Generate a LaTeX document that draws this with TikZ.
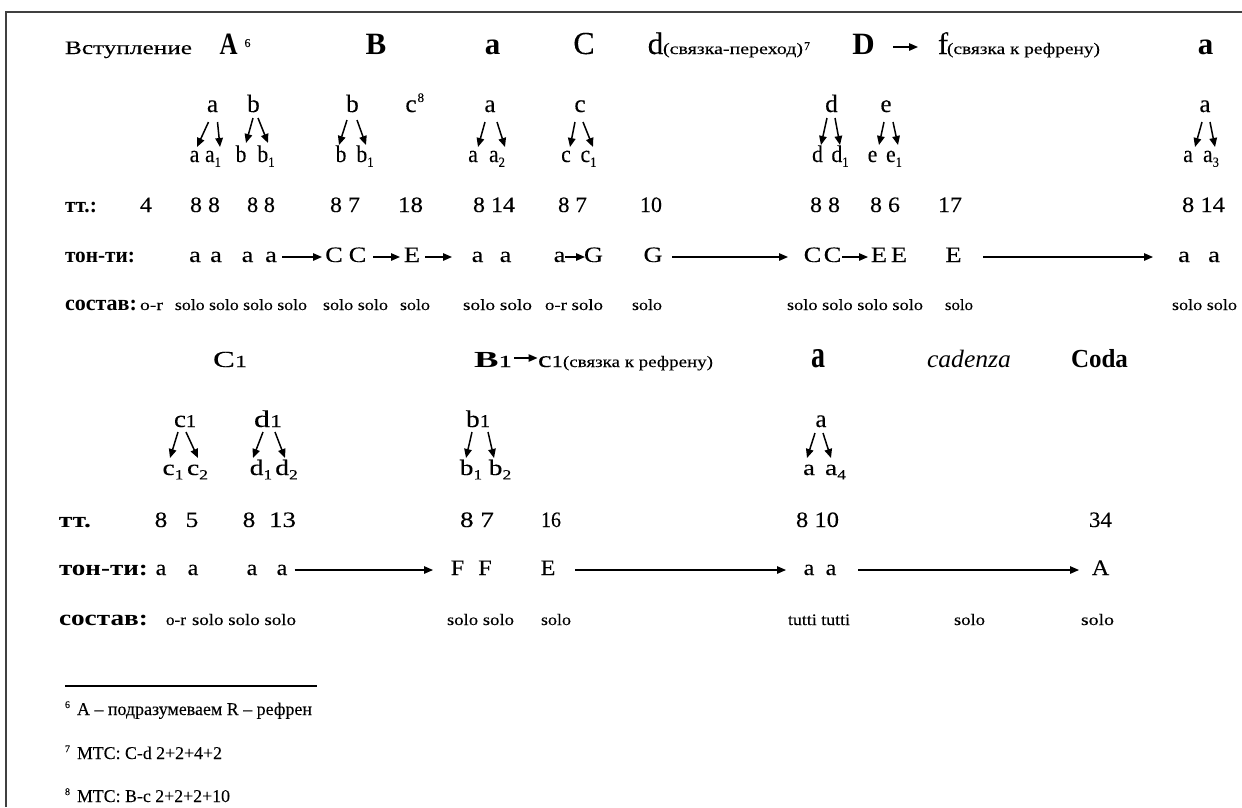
\documentclass[tikz,border=0pt]{standalone}
\usepackage{fontspec}
\setmainfont{Liberation Serif}[UprightFeatures={FakeBold=0.12}]
\usepackage{graphicx}
\usetikzlibrary{arrows.meta}

% font size in pt (1pt = 1 unit of the picture)
\newcommand\fs[1]{\fontsize{#1}{#1}\selectfont}
% text of a given size fitted to a given width
\newcommand\tk[3]{{\fs{#1}\resizebox{#2pt}{\height}{#3}}}
% horizontal stretch
\newcommand\hsc[2]{\scalebox{#1}[1]{#2}}
% lowered index
\newcommand\sbs[1]{\raisebox{-0.2em}{\fs{14}#1}}

\tikzset{
  tok/.style={anchor=base, inner sep=0pt, outer sep=0pt},
  tokw/.style={anchor=base west, inner sep=0pt, outer sep=0pt},
  tree/.style={line width=1.5pt, -{Triangle[length=9pt,width=7.5pt]}},
  flow/.style={line width=1.3pt, -{Triangle[length=9pt,width=7.5pt]}},
  frame/.style={line width=1.6pt, draw=black!75},
}

\begin{document}
\begin{tikzpicture}[x=1pt, y=-1pt]
\useasboundingbox (0,0) rectangle (1242,807);
\fill[white] (0,0) rectangle (1242,807);
\draw[frame] (6,807) -- (6,12) -- (1242,12);

% ---------- first line: sections ----------
\node[tok] (intro) at (128.5,54) {\tk{19}{127}{Вступление}};
\node[tok] (hA) at (228.5,54) {\tk{31}{18}{\bfseries A}};
\node[tokw] (hAn) at ([shift={(7,-7)}]hA.base east) {\fs{12}6};
\node[tok] (hB) at (376,54) {\fs{31}\bfseries B};
\node[tok] (ha) at (492.5,54) {\fs{31}\bfseries a};
\node[tok] (hC) at (584,54) {\fs{32}C};
\node[tok] (hd) at (655.5,54) {\fs{31}d};
\node[tokw] (hdt) at (663,54) {\tk{16}{140}{(связка-переход)}};
\node[tokw] (hdn) at ([shift={(1,-4)}]hdt.base east) {\fs{12}7};
\node[tok] (hD) at (863.5,54) {\fs{31}\bfseries D};
\node[tok] (hf) at (943,54) {\fs{31}f};
\node[tokw] (hft) at (947,54) {\tk{16}{153}{(связка к рефрену)}};
\draw[flow] ([shift={(29.5,-7)}]hD.base) -- ([shift={(-25,-7)}]hf.base);
\node[tok] (hz) at (1205.5,54) {\fs{31}\bfseries a};

% ---------- first line: themes and their variants ----------
\node[tok] (p1) at (212.5,112) {\fs{25}a};
\node[tok] (p2) at (253.5,112) {\fs{25}b};
\node[tok] (p3) at (352.5,112) {\fs{25}b};
\node[tok] (p4) at (411,112) {\fs{25}c};
\node[tokw] (p4n) at ([shift={(1,-10)}]p4.base east) {\fs{13}8};
\node[tok] (p5) at (490,112) {\fs{25}a};
\node[tok] (p6) at (580,112) {\fs{25}c};
\node[tok] (p7) at (831.5,112) {\fs{25}d};
\node[tok] (p8) at (886,112) {\fs{25}e};
\node[tok] (p9) at (1205,112) {\fs{25}a};

\node[tok] (k1a) at (194.5,162) {\fs{24}\hsc{0.9}{a}};
\node[tok] (k1b) at (213,162) {\fs{24}\hsc{0.9}{a\sbs{1}}};
\node[tok] (k2a) at (241,162) {\fs{24}\hsc{0.9}{b}};
\node[tok] (k2b) at (266,162) {\fs{24}\hsc{0.9}{b\sbs{1}}};
\node[tok] (k3a) at (341,162) {\fs{24}\hsc{0.9}{b}};
\node[tok] (k3b) at (365,162) {\fs{24}\hsc{0.9}{b\sbs{1}}};
\node[tok] (k5a) at (473,162) {\fs{24}\hsc{0.9}{a}};
\node[tok] (k5b) at (497,162) {\fs{24}\hsc{0.9}{a\sbs{2}}};
\node[tok] (k6a) at (566,162) {\fs{24}\hsc{0.9}{c}};
\node[tok] (k6b) at (588.5,162) {\fs{24}\hsc{0.9}{c\sbs{1}}};
\node[tok] (k7a) at (817.5,162) {\fs{24}\hsc{0.9}{d}};
\node[tok] (k7b) at (840,162) {\fs{24}\hsc{0.9}{d\sbs{1}}};
\node[tok] (k8a) at (872.5,162) {\fs{24}\hsc{0.9}{e}};
\node[tok] (k8b) at (894,162) {\fs{24}\hsc{0.9}{e\sbs{1}}};
\node[tok] (k9a) at (1188,162) {\fs{24}\hsc{0.9}{a}};
\node[tok] (k9b) at (1211,162) {\fs{24}\hsc{0.9}{a\sbs{3}}};

\draw[tree] ([shift={(-4,10)}]p1.base) -- ([shift={(2.5,-15)}]k1a.base);
\draw[tree] ([shift={(5,10)}]p1.base) -- ([shift={(7,-15)}]k1b.base);
\draw[tree] ([shift={(-0.5,6)}]p2.base) -- ([shift={(5,-19)}]k2a.base);
\draw[tree] ([shift={(4.5,6)}]p2.base) -- ([shift={(2,-19)}]k2b.base);
\draw[tree] ([shift={(-5.5,8)}]p3.base) -- ([shift={(-2,-17)}]k3a.base);
\draw[tree] ([shift={(4.5,8)}]p3.base) -- ([shift={(1,-17)}]k3b.base);
\draw[tree] ([shift={(-5,10)}]p5.base) -- ([shift={(5,-15)}]k5a.base);
\draw[tree] ([shift={(7,10)}]p5.base) -- ([shift={(8,-15)}]k5b.base);
\draw[tree] ([shift={(-5,10)}]p6.base) -- ([shift={(4,-15)}]k6a.base);
\draw[tree] ([shift={(3,10)}]p6.base) -- ([shift={(4.5,-15)}]k6b.base);
\draw[tree] ([shift={(-4.5,6)}]p7.base) -- ([shift={(3.5,-17)}]k7a.base);
\draw[tree] ([shift={(3.5,6)}]p7.base) -- ([shift={(0,-17)}]k7b.base);
\draw[tree] ([shift={(-2,10)}]p8.base) -- ([shift={(6.5,-17)}]k8a.base);
\draw[tree] ([shift={(7,10)}]p8.base) -- ([shift={(4,-17)}]k8b.base);
\draw[tree] ([shift={(-3,10)}]p9.base) -- ([shift={(7,-15)}]k9a.base);
\draw[tree] ([shift={(5,10)}]p9.base) -- ([shift={(4,-15)}]k9b.base);

% ---------- first line: bars ----------
\node[tokw] (l1) at (65,212) {\tk{22}{32}{\bfseries тт.:}};
\node[tok] (n1) at (146,212) {\tk{22}{12}{4}};
\node[tok] (n2) at (205,212) {\tk{22}{30}{8 8}};
\node[tok] (n3) at (261,212) {\tk{22}{28}{8 8}};
\node[tok] (n4) at (345,212) {\tk{22}{30}{8 7}};
\node[tok] (n5) at (410.5,212) {\tk{22}{25}{18}};
\node[tok] (n6) at (494,212) {\tk{22}{42}{8 14}};
\node[tok] (n7) at (572.5,212) {\tk{22}{29}{8 7}};
\node[tok] (n8) at (651,212) {\tk{22}{22}{10}};
\node[tok] (n9) at (825,212) {\tk{22}{30}{8 8}};
\node[tok] (n10) at (885,212) {\tk{22}{30}{8 6}};
\node[tok] (n11) at (950,212) {\tk{22}{24}{17}};
\node[tok] (n12) at (1203.5,212) {\tk{22}{43}{8 14}};

% ---------- first line: keys ----------
\node[tokw] (l2) at (65,262) {\tk{22}{70}{\bfseries тон-ти:}};
\node[tok] (t1) at (195,262) {\fs{22}\hsc{1.2}{a}};
\node[tok] (t2) at (216,262) {\fs{22}\hsc{1.2}{a}};
\node[tok] (t3) at (247.5,262) {\fs{22}\hsc{1.2}{a}};
\node[tok] (t4) at (271,262) {\fs{22}\hsc{1.2}{a}};
\node[tok] (t5) at (334,262) {\fs{22}\hsc{1.2}{C}};
\node[tok] (t6) at (357.5,262) {\fs{22}\hsc{1.2}{C}};
\node[tok] (t7) at (412,262) {\fs{22}\hsc{1.2}{E}};
\node[tok] (t8) at (477.5,262) {\fs{22}\hsc{1.2}{a}};
\node[tok] (t9) at (505.5,262) {\fs{22}\hsc{1.2}{a}};
\node[tok] (t10) at (559.5,262) {\fs{22}\hsc{1.2}{a}};
\node[tok] (t11) at (593.5,262) {\fs{22}\hsc{1.2}{G}};
\node[tok] (t12) at (653,262) {\fs{22}\hsc{1.2}{G}};
\node[tok] (t13) at (812.5,262) {\fs{22}\hsc{1.2}{C}};
\node[tok] (t14) at (832.5,262) {\fs{22}\hsc{1.2}{C}};
\node[tok] (t15) at (879,262) {\fs{22}\hsc{1.2}{E}};
\node[tok] (t16) at (899,262) {\fs{22}\hsc{1.2}{E}};
\node[tok] (t17) at (953.5,262) {\fs{22}\hsc{1.2}{E}};
\node[tok] (t18) at (1184,262) {\fs{22}\hsc{1.2}{a}};
\node[tok] (t19) at (1214,262) {\fs{22}\hsc{1.2}{a}};

\draw[flow] ([shift={(11,-5)}]t4.base) -- ([shift={(-12,-5)}]t5.base);
\draw[flow] ([shift={(15.5,-5)}]t6.base) -- ([shift={(-12,-5)}]t7.base);
\draw[flow] ([shift={(13,-5)}]t7.base) -- ([shift={(-25.5,-5)}]t8.base);
\draw[flow] ([shift={(5.5,-5)}]t10.base) -- ([shift={(-8.5,-5)}]t11.base);
\draw[flow] ([shift={(19,-5)}]t12.base) -- ([shift={(-24.5,-5)}]t13.base);
\draw[flow] ([shift={(9.5,-5)}]t14.base) -- ([shift={(-11,-5)}]t15.base);
\draw[flow] ([shift={(29.5,-5)}]t17.base) -- ([shift={(-31,-5)}]t18.base);

% ---------- first line: scoring ----------
\node[tokw] (l3) at (65,310) {\tk{22}{72}{\bfseries состав:}};
\node[tok] (s1) at (151.5,310) {\tk{15.5}{23}{o-r}};
\node[tok] (s2) at (241,310) {\tk{15.5}{132}{solo solo solo solo}};
\node[tok] (s3) at (355.5,310) {\tk{15.5}{65}{solo solo}};
\node[tok] (s4) at (415,310) {\tk{15.5}{30}{solo}};
\node[tok] (s5) at (497.5,310) {\tk{15.5}{69}{solo solo}};
\node[tok] (s6) at (574,310) {\tk{15.5}{58}{o-r solo}};
\node[tok] (s7) at (647,310) {\tk{15.5}{30}{solo}};
\node[tok] (s8) at (855,310) {\tk{15.5}{136}{solo solo solo solo}};
\node[tok] (s9) at (959,310) {\tk{15.5}{28}{solo}};
\node[tok] (s10) at (1204.5,310) {\tk{15.5}{65}{solo solo}};

% ---------- second line: sections ----------
\node[tok] (hC1) at (230,367) {\resizebox{34pt}{\height}{\fs{23}C\fs{17}1}};
\node[tok] (hB1) at (493,367) {\resizebox{38pt}{\height}{\fs{23}\textbf{B}\fs{17}1}};
\node[tok] (hc1) at (550.5,367) {\resizebox{25pt}{\height}{\fs{23}c\fs{17}1}};
\node[tokw] (hc1t) at (563,367) {\tk{16}{150}{(связка к рефрену)}};
\draw[flow] ([shift={(21,-9)}]hB1.base) -- ([shift={(-13,-9)}]hc1.base);
\node[tok] (hA4) at (818,367) {\resizebox{14pt}{18pt}{\bfseries a}};
\node[tok] (hcad) at (969,367) {\tk{25}{84}{\itshape cadenza}};
\node[tok] (hcoda) at (1099.5,367) {\tk{26}{57}{\bfseries Coda}};

% ---------- second line: themes and their variants ----------
\node[tok] (q1) at (185,427) {\resizebox{22pt}{\height}{\fs{24}c\fs{18}1}};
\node[tok] (q2) at (268,427) {\resizebox{28pt}{\height}{\fs{24}d\fs{18}1}};
\node[tok] (q3) at (478,427) {\resizebox{24pt}{\height}{\fs{24}b\fs{18}1}};
\node[tok] (q4) at (821,427) {\fs{25}a};

\node[tok] (r1) at (173,475) {\fs{22}\hsc{1.25}{c\sbs{1}}};
\node[tok] (r2) at (197.5,475) {\fs{22}\hsc{1.25}{c\sbs{2}}};
\node[tok] (r3) at (261,475) {\fs{22}\hsc{1.25}{d\sbs{1}}};
\node[tok] (r4) at (286.5,475) {\fs{22}\hsc{1.25}{d\sbs{2}}};
\node[tok] (r5) at (471,475) {\fs{22}\hsc{1.25}{b\sbs{1}}};
\node[tok] (r6) at (500,475) {\fs{22}\hsc{1.25}{b\sbs{2}}};
\node[tok] (r7) at (809,475) {\fs{22}\hsc{1.2}{a}};
\node[tok] (r8) at (835.5,475) {\fs{22}\hsc{1.25}{a\sbs{4}}};

\draw[tree] ([shift={(-7,5)}]q1.base) -- ([shift={(-3,-17)}]r1.base);
\draw[tree] ([shift={(1,5)}]q1.base) -- ([shift={(0.5,-17)}]r2.base);
\draw[tree] ([shift={(-5,5)}]q2.base) -- ([shift={(-8,-17)}]r3.base);
\draw[tree] ([shift={(7,5)}]q2.base) -- ([shift={(-1.5,-17)}]r4.base);
\draw[tree] ([shift={(-6,5)}]q3.base) -- ([shift={(-5,-17)}]r5.base);
\draw[tree] ([shift={(10,5)}]q3.base) -- ([shift={(-6,-17)}]r6.base);
\draw[tree] ([shift={(-6,6)}]q4.base) -- ([shift={(-2,-17)}]r7.base);
\draw[tree] ([shift={(2,6)}]q4.base) -- ([shift={(-4.5,-17)}]r8.base);

% ---------- second line: bars ----------
\node[tokw] (m1) at (59,527) {\tk{22}{32}{\bfseries тт.}};
\node[tok] (o1) at (161,527) {\fs{22}\hsc{1.15}{8}};
\node[tok] (o2) at (192,527) {\fs{22}\hsc{1.15}{5}};
\node[tok] (o3) at (249,527) {\fs{22}\hsc{1.15}{8}};
\node[tok] (o4) at (282.5,527) {\tk{22}{27}{13}};
\node[tok] (o5) at (477,527) {\tk{22}{34}{8 7}};
\node[tok] (o6) at (551,527) {\tk{22}{20}{16}};
\node[tok] (o7) at (817.5,527) {\tk{22}{43}{8 10}};
\node[tok] (o8) at (1100.5,527) {\tk{22}{23}{34}};

% ---------- second line: keys ----------
\node[tokw] (m2) at (59,575) {\tk{22}{89}{\bfseries тон-ти:}};
\node[tok] (u1) at (161,575) {\fs{22}\hsc{1.1}{a}};
\node[tok] (u2) at (193,575) {\fs{22}\hsc{1.1}{a}};
\node[tok] (u3) at (252,575) {\fs{22}\hsc{1.1}{a}};
\node[tok] (u4) at (282,575) {\fs{22}\hsc{1.1}{a}};
\node[tok] (u5) at (457.5,575) {\fs{22}\hsc{1.1}{F}};
\node[tok] (u6) at (485,575) {\fs{22}\hsc{1.1}{F}};
\node[tok] (u7) at (548,575) {\fs{22}\hsc{1.1}{E}};
\node[tok] (u8) at (809,575) {\fs{22}\hsc{1.1}{a}};
\node[tok] (u9) at (831,575) {\fs{22}\hsc{1.1}{a}};
\node[tok] (u10) at (1100.5,575) {\fs{22}\hsc{1.1}{A}};

\draw[flow] ([shift={(12.5,-5)}]u4.base) -- ([shift={(-24.5,-5)}]u5.base);
\draw[flow] ([shift={(27,-5)}]u7.base) -- ([shift={(-23,-5)}]u8.base);
\draw[flow] ([shift={(27,-5)}]u9.base) -- ([shift={(-21.5,-5)}]u10.base);

% ---------- second line: scoring ----------
\node[tokw] (m3) at (59,625) {\tk{22}{89}{\bfseries состав:}};
\node[tok] (v1) at (176,625) {\tk{16}{20}{o-r}};
\node[tok] (v2) at (244,625) {\tk{16}{104}{solo solo solo}};
\node[tok] (v3) at (480.5,625) {\tk{16}{67}{solo solo}};
\node[tok] (v4) at (556,625) {\tk{16}{30}{solo}};
\node[tok] (v5) at (819,625) {\tk{16}{62}{tutti tutti}};
\node[tok] (v6) at (969.5,625) {\tk{16}{31}{solo}};
\node[tok] (v7) at (1097.5,625) {\tk{16}{33}{solo}};

% ---------- footnotes ----------
\draw[line width=1.2pt] (65,686) -- (317,686);
\node[tokw] (f1n) at (65,708) {\fs{10}6};
\node[tokw] (f1) at (77,715) {\tk{18}{235}{A – подразумеваем R – рефрен}};
\node[tokw] (f2n) at (65,752) {\fs{10}7};
\node[tokw] (f2) at (77,759) {\tk{18}{145}{МТС: C-d 2+2+4+2}};
\node[tokw] (f3n) at (65,795) {\fs{10}8};
\node[tokw] (f3) at (77,802) {\tk{18}{153}{МТС: B-c 2+2+2+10}};
\end{tikzpicture}
\end{document}
